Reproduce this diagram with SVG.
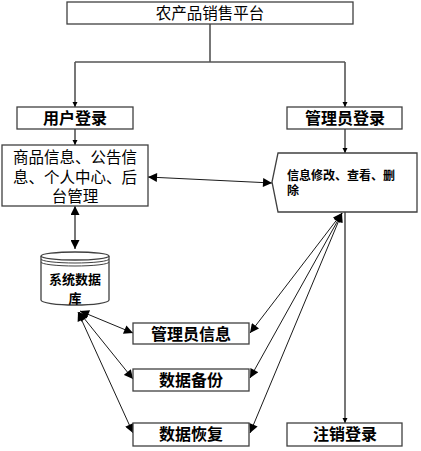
<svg xmlns="http://www.w3.org/2000/svg" width="421" height="451" viewBox="0 0 421 451">
<defs>
<marker id="sm" viewBox="0 0 10 10" refX="10" refY="5" markerWidth="5" markerHeight="6" markerUnits="userSpaceOnUse" orient="auto-start-reverse">
<path d="M0,0 L10,5 L0,10 Z" fill="#000"/>
</marker>
<marker id="lg" viewBox="0 0 10 10" refX="10" refY="5" markerWidth="11" markerHeight="9" markerUnits="userSpaceOnUse" orient="auto-start-reverse">
<path d="M0,0 L10,5 L0,10 Z" fill="#000"/>
</marker>
<style>
.box{fill:#fff;stroke:#404040;stroke-width:1.3}
.t{font-family:"Liberation Sans","Noto Sans CJK SC",sans-serif;fill:#000;text-anchor:middle}
.b{font-weight:bold}
.gl{fill:none;stroke:#555;stroke-width:1.6}
.tl{fill:none;stroke:#000;stroke-width:0.9}
</style>
</defs>
<rect width="421" height="451" fill="#fff"/>
<g id="connectors">
<path class="gl" d="M210,24 V62 M75,62 H345"/>
<path class="gl" d="M75,62 V107" marker-end="url(#sm)"/>
<path class="gl" d="M345,62 V107" marker-end="url(#sm)"/>
<path class="gl" d="M75,129 V145" marker-end="url(#sm)"/>
<path class="gl" d="M345,129 V153" marker-end="url(#sm)"/>
<path class="gl" d="M345,212 V423" marker-end="url(#sm)"/>
<path class="gl" d="M75,206 V249" marker-start="url(#lg)" marker-end="url(#lg)"/>
<path class="tl" d="M148,177 L272,183" marker-start="url(#lg)" marker-end="url(#lg)"/>
<path class="tl" d="M80,311 L133,333" marker-start="url(#lg)" marker-end="url(#lg)"/>
<path class="tl" d="M79,312 L133,379" marker-start="url(#lg)" marker-end="url(#lg)"/>
<path class="tl" d="M78,312 L133,433" marker-start="url(#lg)" marker-end="url(#lg)"/>
<path class="tl" d="M342,213 L250,333" marker-start="url(#lg)" marker-end="url(#lg)"/>
<path class="tl" d="M342,213 L250,378" marker-start="url(#lg)" marker-end="url(#lg)"/>
<path class="tl" d="M342,213 L250,433" marker-start="url(#lg)" marker-end="url(#lg)"/>
</g>
<g id="platform">
<rect class="box" x="67" y="2" width="286" height="22"/>
<text class="t" x="210" y="19" font-size="15.5">农产品销售平台</text>
</g>
<g id="user-login">
<rect class="box" x="17" y="107" width="116" height="22"/>
<text class="t b" x="75" y="124" font-size="16">用户登录</text>
</g>
<g id="admin-login">
<rect class="box" x="287" y="107" width="115" height="22"/>
<text class="t b" x="345" y="124" font-size="16">管理员登录</text>
</g>
<g id="user-functions">
<rect class="box" x="2" y="145" width="146" height="61"/>
<text class="t" x="75" y="163" font-size="15.5">商品信息、公告信</text>
<text class="t" x="75" y="183" font-size="15.5">息、个人中心、后</text>
<text class="t" x="75" y="202" font-size="15.5">台管理</text>
</g>
<g id="admin-functions">
<path class="box" d="M278,153 H417 V212 H278 L272,182 Z"/>
<text class="t b" x="287" y="180" font-size="12" style="text-anchor:start">信息修改、查看、删</text>
<text class="t b" x="287" y="195" font-size="12" style="text-anchor:start">除</text>
</g>
<g id="database">
<path class="box" d="M41,256 V300 A34,5 0 0 0 109,300 V256"/>
<ellipse class="box" cx="75" cy="256" rx="34" ry="4"/>
<path fill="none" stroke="#404040" stroke-width="1" d="M41,259 A34,4 0 0 0 109,259 M41,262 A34,4 0 0 0 109,262"/>
<text class="t b" x="75" y="284" font-size="13">系统数据</text>
<text class="t b" x="75" y="303" font-size="13">库</text>
</g>
<g id="admin-info">
<rect class="box" x="133" y="323" width="116" height="21"/>
<text class="t b" x="191" y="340" font-size="16">管理员信息</text>
</g>
<g id="backup">
<rect class="box" x="133" y="369" width="116" height="22"/>
<text class="t b" x="191" y="386" font-size="16">数据备份</text>
</g>
<g id="restore">
<rect class="box" x="133" y="423" width="116" height="23"/>
<text class="t b" x="191" y="440" font-size="16">数据恢复</text>
</g>
<g id="logout">
<rect class="box" x="287" y="423" width="115" height="23"/>
<text class="t b" x="345" y="440" font-size="16">注销登录</text>
</g>
</svg>
